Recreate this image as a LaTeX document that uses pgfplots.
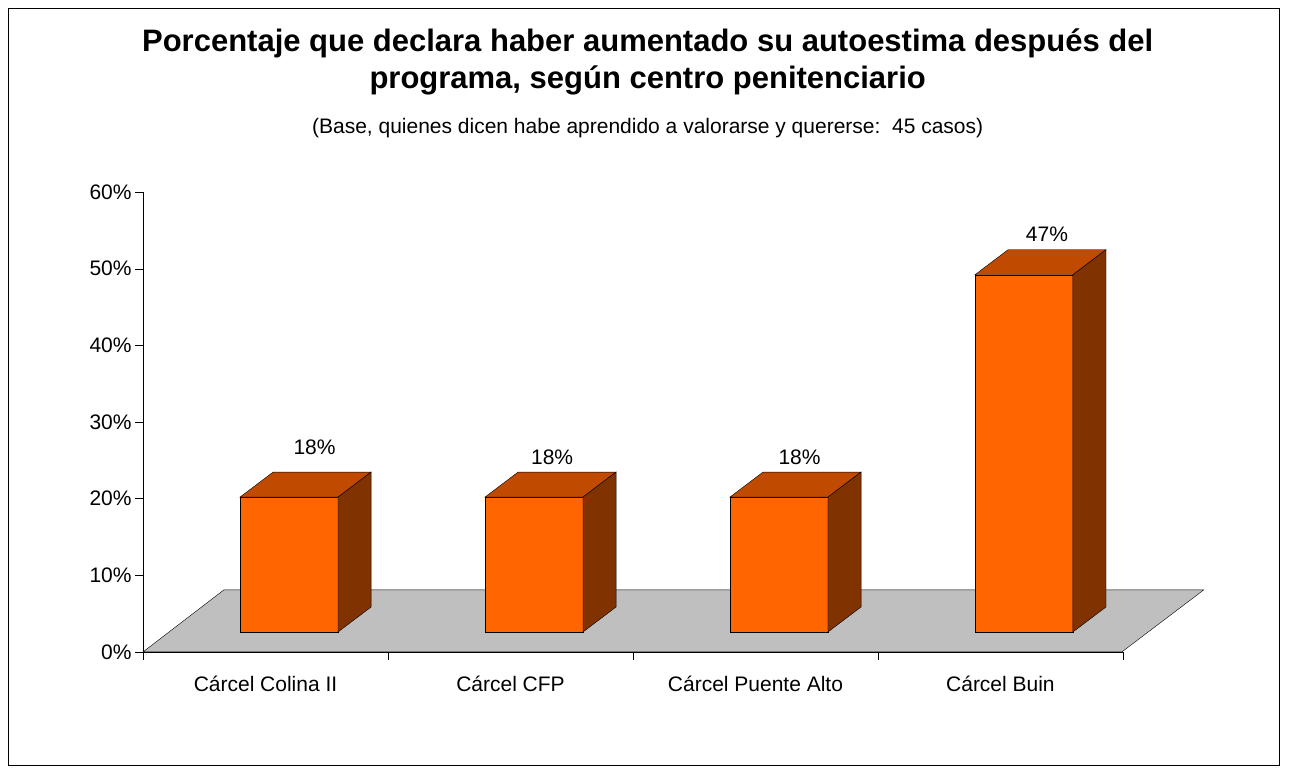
\documentclass[border=0pt]{standalone}
\usepackage{pgfplots}
\pgfplotsset{compat=1.18}
\usepackage{fontspec}
\setmainfont{Liberation Sans}
\definecolor{front}{HTML}{FF6600}
\definecolor{topc}{HTML}{C04A00}
\definecolor{side}{HTML}{803300}
\begin{document}
\begin{tikzpicture}
\begin{axis}[
  x=245bp, y=7.667bp,
  xmin=0, xmax=4, ymin=0, ymax=60,
  axis lines=left, axis line style={-},
  clip=false,
  xtick={0,1,2,3,4}, xticklabels={}, 
  x tick style={black}, tick align=outside, major tick length=8bp,
  ytick={0,10,...,60},
  yticklabel={\pgfmathprintnumber{\tick}\%},
  /pgf/number format/assume math mode=true,
  y tick label style={font=\fontsize{21bp}{24bp}\selectfont},
  y tick style={black},
]
% frame and bounding
\path (axis cs:-0.584,-16.04) rectangle (axis cs:4.678,85.04);
\draw[black,line width=0.8bp] (axis cs:-0.551,-14.74) rectangle (axis cs:4.637,84.0);
% floor
\addplot[fill=gray!100!black!50, draw=black] coordinates {(0,0)(3.996,0)(4.33,8.09)(0.33,8.09)} -- cycle;
% bars
\addplot[fill=front,draw=black] coordinates {(0.396,2.6)(0.796,2.6)(0.796,20.2)(0.396,20.2)} -- cycle;
\addplot[fill=topc,draw=black] coordinates {(0.396,20.2)(0.796,20.2)(0.931,23.46)(0.531,23.46)} -- cycle;
\addplot[fill=side,draw=black] coordinates {(0.796,2.6)(0.931,5.86)(0.931,23.46)(0.796,20.2)} -- cycle;
\addplot[fill=front,draw=black] coordinates {(1.396,2.6)(1.796,2.6)(1.796,20.2)(1.396,20.2)} -- cycle;
\addplot[fill=topc,draw=black] coordinates {(1.396,20.2)(1.796,20.2)(1.931,23.46)(1.531,23.46)} -- cycle;
\addplot[fill=side,draw=black] coordinates {(1.796,2.6)(1.931,5.86)(1.931,23.46)(1.796,20.2)} -- cycle;
\addplot[fill=front,draw=black] coordinates {(2.396,2.6)(2.796,2.6)(2.796,20.2)(2.396,20.2)} -- cycle;
\addplot[fill=topc,draw=black] coordinates {(2.396,20.2)(2.796,20.2)(2.931,23.46)(2.531,23.46)} -- cycle;
\addplot[fill=side,draw=black] coordinates {(2.796,2.6)(2.931,5.86)(2.931,23.46)(2.796,20.2)} -- cycle;
\addplot[fill=front,draw=black] coordinates {(3.396,2.6)(3.796,2.6)(3.796,49.2)(3.396,49.2)} -- cycle;
\addplot[fill=topc,draw=black] coordinates {(3.396,49.2)(3.796,49.2)(3.931,52.46)(3.531,52.46)} -- cycle;
\addplot[fill=side,draw=black] coordinates {(3.796,2.6)(3.931,5.86)(3.931,52.46)(3.796,49.2)} -- cycle;
% value labels
\begin{scope}[every node/.style={font=\fontsize{21bp}{24bp}\selectfont}]
\node at (axis cs:0.70,26.7) {18\%};
\node at (axis cs:1.67,25.4) {18\%};
\node at (axis cs:2.68,25.4) {18\%};
\node at (axis cs:3.69,54.5) {47\%};
\node at (axis cs:0.5,-4.2) {Cárcel Colina II};
\node at (axis cs:1.5,-4.2) {Cárcel CFP};
\node at (axis cs:2.5,-4.2) {Cárcel Puente Alto};
\node at (axis cs:3.5,-4.2) {Cárcel Buin};
\node at (axis cs:2.06,68.3) {(Base, quienes dicen habe aprendido a valorarse y quererse:\ \ 45 casos)};
\end{scope}
\node[font=\fontsize{31bp}{37bp}\selectfont\bfseries, align=center] at (axis cs:2.06,77.0) {Porcentaje que declara haber aumentado su autoestima después del\\programa, según centro penitenciario};
\end{axis}
\end{tikzpicture}
\end{document}
